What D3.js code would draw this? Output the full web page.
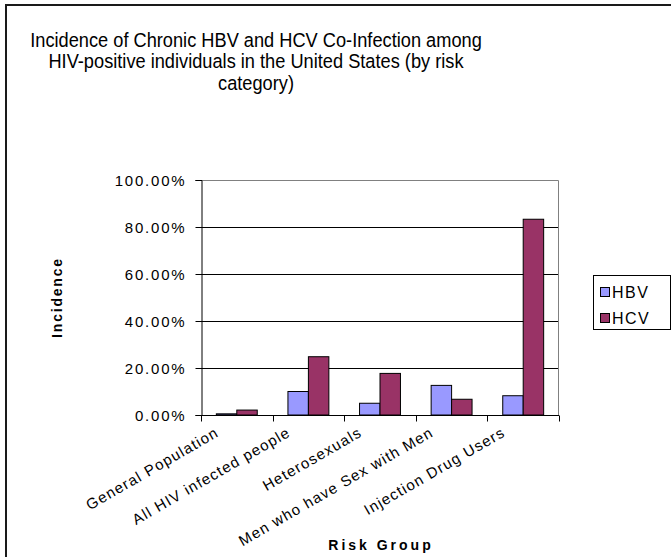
<!DOCTYPE html>
<html>
<head>
<meta charset="utf-8">
<script src="https://cdn.jsdelivr.net/npm/d3@7"></script>
<style>
  html, body { margin: 0; padding: 0; background: #fff; }
  svg { display: block; }
  text { font-family: Arial, "Liberation Sans", sans-serif; fill: #000; }
</style>
</head>
<body>
<svg id="chart" width="671" height="557"></svg>
<script>
const categories = ["General Population", "All HIV infected people", "Heterosexuals", "Men who have Sex with Men", "Injection Drug Users"];
const seriesNames = ["HBV", "HCV"];
const hbvValues = [0.005, 0.100, 0.050, 0.126, 0.082];
const hcvValues = [0.021, 0.248, 0.177, 0.067, 0.833];
const yTicks = [0, 0.2, 0.4, 0.6, 0.8, 1.0];
const titleLines = ["Incidence of Chronic HBV and HCV Co-Infection among", "HIV-positive individuals in the United States (by risk", "category)"];
const colors = { HBV: "#9999FF", HCV: "#993366" };

const svg = d3.select("#chart");

// chart area border
svg.append("rect").attr("x", 6).attr("y", 5).attr("width", 700).attr("height", 600)
  .attr("fill", "none").attr("stroke", "#1a1a1a").attr("stroke-width", 2);

const plot = { left: 201, right: 559, top: 180, bottom: 415 };

const x = d3.scaleBand().domain(categories).range([plot.left, plot.right]).padding(0);
const xInner = d3.scaleBand().domain(seriesNames).range([0, x.bandwidth()]).paddingInner(0).paddingOuter(0.75);
const y = d3.scaleLinear().domain([0, 1]).range([plot.bottom, plot.top]);

// title (slightly condensed, as in the reference)
const titleG = svg.append("g").attr("transform", "translate(256,0) scale(0.935,1)");
titleG.selectAll("text").data(titleLines).join("text")
  .attr("x", 0).attr("y", (d, i) => 47 + i * 21.5)
  .attr("text-anchor", "middle").style("font-size", "19.5px").text(d => d);

// gridlines
svg.append("g").selectAll("line").data(yTicks.filter(t => t > 0 && t < 1)).join("line")
  .attr("x1", plot.left).attr("x2", plot.right)
  .attr("y1", d => Math.round(y(d)) + 0.5).attr("y2", d => Math.round(y(d)) + 0.5)
  .attr("stroke", "#000").attr("stroke-width", 1);

// plot border (gray top/right)
svg.append("path")
  .attr("d", `M${plot.left},${plot.top + 0.5}H${plot.right - 0.5}V${plot.bottom}`)
  .attr("fill", "none").attr("stroke", "#808080").attr("stroke-width", 1);

// bars
const data = categories.map((c, i) => ({ cat: c, values: [{ s: "HBV", v: hbvValues[i] }, { s: "HCV", v: hcvValues[i] }] }));
const groups = svg.append("g").selectAll("g").data(data).join("g")
  .attr("transform", d => `translate(${x(d.cat)},0)`);
groups.selectAll("rect").data(d => d.values).join("rect")
  .attr("x", d => xInner(d.s))
  .attr("y", d => y(d.v))
  .attr("width", xInner.bandwidth())
  .attr("height", d => y(0) - y(d.v))
  .attr("fill", d => colors[d.s])
  .attr("stroke", "#000").attr("stroke-width", 1);

// y axis
const yAxis = svg.append("g").attr("transform", `translate(${plot.left + 0.5},0)`)
  .call(d3.axisLeft(y).tickValues(yTicks).tickSize(6).tickPadding(9).tickFormat(d3.format(".2%")));
yAxis.attr("font-family", null).attr("font-size", null);
yAxis.select(".domain").attr("stroke", "#000");
yAxis.selectAll(".tick line").attr("stroke", "#000");
yAxis.selectAll(".tick text").style("font-size", "15px").style("letter-spacing", "1.8px")
  .attr("fill", "#000").attr("dy", "0.36em");

// x axis
const xAxis = svg.append("g").attr("transform", `translate(0,${plot.bottom + 0.5})`);
xAxis.append("line").attr("x1", plot.left).attr("x2", plot.right).attr("stroke", "#000");
const bounds = categories.map(c => x(c)).concat([plot.right]);
xAxis.selectAll("line.tk").data(bounds).join("line").attr("class", "tk")
  .attr("x1", d => Math.round(d) + 0.5).attr("x2", d => Math.round(d) + 0.5)
  .attr("y1", 0).attr("y2", 6).attr("stroke", "#000");
xAxis.selectAll("text").data(categories).join("text")
  .attr("text-anchor", "end")
  .attr("transform", d => `translate(${x(d) + x.bandwidth() / 2 - 17},${20}) rotate(-30)`)
  .style("font-size", "15px").style("letter-spacing", "1.2px")
  .text(d => d);

// axis titles
svg.append("text").attr("transform", `translate(62,297.5) rotate(-90)`)
  .attr("text-anchor", "middle").style("font-size", "14px").style("font-weight", "bold")
  .style("letter-spacing", "1.8px").text("Incidence");
svg.append("text").attr("x", 381).attr("y", 550)
  .attr("text-anchor", "middle").style("font-size", "14px").style("font-weight", "bold")
  .style("letter-spacing", "3px").text("Risk Group");

// legend
const legend = svg.append("g");
legend.append("rect").attr("x", 593.5).attr("y", 275.5).attr("width", 77).attr("height", 54)
  .attr("fill", "#fff").attr("stroke", "#000");
const li = legend.selectAll("g").data(seriesNames).join("g")
  .attr("transform", (d, i) => `translate(0,${i * 26})`);
li.append("rect").attr("x", 600.5).attr("y", 287.5).attr("width", 9).attr("height", 9)
  .attr("fill", d => colors[d]).attr("stroke", "#000");
li.append("text").attr("x", 612).attr("y", 298).style("font-size", "16px")
  .style("letter-spacing", "1.5px").text(d => d);
</script>
</body>
</html>
